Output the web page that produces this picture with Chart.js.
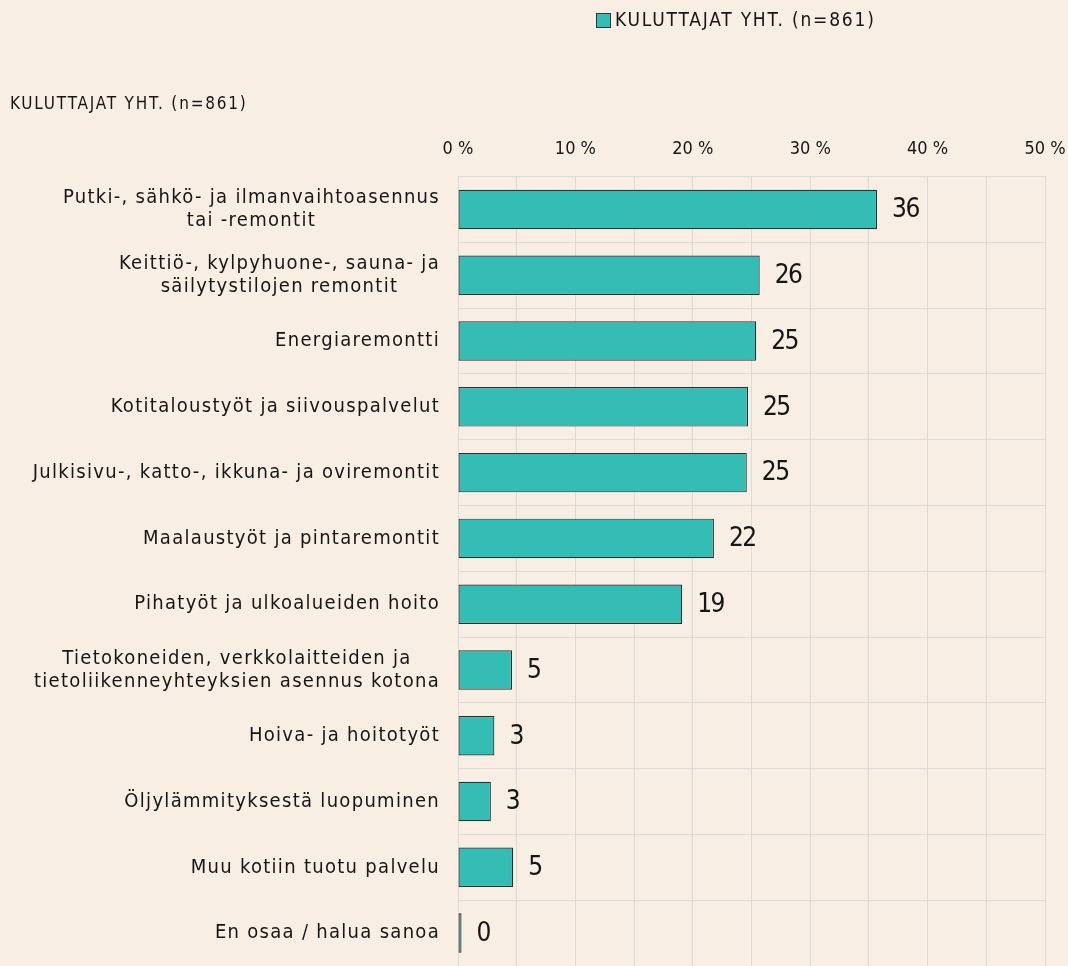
<!DOCTYPE html>
<html>
<head>
<meta charset="utf-8">
<script src="https://cdn.jsdelivr.net/npm/chart.js@4"></script>
<style>
  html, body { margin: 0; padding: 0; background: #f8eee4; }
  #wrap { width: 1068px; height: 966px; position: relative; }
</style>
</head>
<body>
<div id="wrap"><canvas id="chart"></canvas></div>
<script>
// categories (multi-line labels as arrays)
const categories = [
    ['Putki-, sähkö- ja ilmanvaihtoasennus', 'tai -remontit'],
    ['Keittiö-, kylpyhuone-, sauna- ja', 'säilytystilojen remontit'],
    'Energiaremontti',
    'Kotitaloustyöt ja siivouspalvelut',
    'Julkisivu-, katto-, ikkuna- ja oviremontit',
    'Maalaustyöt ja pintaremontit',
    'Pihatyöt ja ulkoalueiden hoito',
    ['Tietokoneiden, verkkolaitteiden ja', 'tietoliikenneyhteyksien asennus kotona'],
    'Hoiva- ja hoitotyöt',
    'Öljylämmityksestä luopuminen',
    'Muu kotiin tuotu palvelu',
    'En osaa / halua sanoa'
];
const values = [35.7, 25.7, 25.4, 24.7, 24.6, 21.8, 19.1, 4.6, 3.1, 2.8, 4.7, 0.3];
const seriesName = 'KULUTTAJAT YHT. (n=861)';
const titleText = 'KULUTTAJAT YHT. (n=861)';
const tickValues = [0, 10, 20, 30, 40, 50];

const FONT = '"DejaVu Sans Condensed", sans-serif';
const BAR = '#33bdb5';
const TEXT = '#161616';

// y-akselin nimikkeet: monirivit keskitetään keskenään, lohko oikealle
const yLabels = {
    id: 'yLabels',
    afterDraw(chart) {
        const ctx = chart.ctx;
        const y = chart.scales.y;
        ctx.save();
        ctx.font = '20px ' + FONT;
        ctx.letterSpacing = '1.3px';
        ctx.fillStyle = TEXT;
        ctx.textBaseline = 'middle';
        ctx.textAlign = 'center';
        const right = y.right - 18;
        const lh = 23;
        categories.forEach((lab, i) => {
            const lines = Array.isArray(lab) ? lab : [lab];
            const w = Math.max(...lines.map(l => ctx.measureText(l).width));
            const cx = right - w / 2;
            const cy = y.getPixelForValue(i);
            lines.forEach((l, j) => {
                ctx.fillText(l, cx, cy + (j - (lines.length - 1) / 2) * lh);
            });
        });
        ctx.restore();
    }
};

// arvot palkkien perään
const valueLabels = {
    id: 'valueLabels',
    afterDatasetsDraw(chart) {
        const ctx = chart.ctx;
        const meta = chart.getDatasetMeta(0);
        ctx.save();
        ctx.font = '26px ' + FONT;
        ctx.letterSpacing = '-1.5px';
        ctx.fillStyle = TEXT;
        ctx.textBaseline = 'middle';
        ctx.textAlign = 'left';
        meta.data.forEach((bar, i) => {
            ctx.fillText(String(Math.round(values[i])), bar.x + 15, bar.y + 1);
        });
        ctx.restore();
    }
};

// selite ja otsikko
const header = {
    id: 'header',
    afterDraw(chart) {
        const ctx = chart.ctx;
        ctx.save();
        ctx.fillStyle = BAR;
        ctx.strokeStyle = '#333';
        ctx.lineWidth = 1;
        ctx.fillRect(596.5, 13.5, 14, 14);
        ctx.strokeRect(596.5, 13.5, 14, 14);
        ctx.fillStyle = TEXT;
        ctx.font = '19px ' + FONT;
        ctx.letterSpacing = '1.8px';
        ctx.textBaseline = 'middle';
        ctx.fillText(seriesName, 615, 21);
        ctx.font = '17px ' + FONT;
        ctx.letterSpacing = '1.8px';
        ctx.fillText(titleText, 10, 105);
        ctx.restore();
    }
};

new Chart(document.getElementById('chart'), {
    type: 'bar',
    data: {
        labels: categories,
        datasets: [{
            label: seriesName,
            data: values,
            backgroundColor: BAR,
            borderColor: '#2e2e2e',
            borderWidth: 1.2,
            borderSkipped: false,
            categoryPercentage: 1,
            barPercentage: 0.6
        }]
    },
    options: {
        indexAxis: 'y',
        responsive: true,
        maintainAspectRatio: false,
        animation: false,
        layout: { padding: { top: 123, right: 23, bottom: 0, left: 0 } },
        plugins: {
            legend: { display: false },
            tooltip: { enabled: false }
        },
        scales: {
            x: {
                position: 'top',
                min: 0,
                max: 50,
                afterFit: s => { s.paddingRight = 0; s.paddingLeft = 0; },
                ticks: {
                    stepSize: 5,
                    autoSkip: false,
                    maxRotation: 0,
                    padding: 16,
                    color: TEXT,
                    font: { family: FONT, size: 18 },
                    callback: v => tickValues.includes(v) ? v + ' %' : ''
                },
                grid: { color: '#dcdad6', drawTicks: false },
                border: { color: '#dcdad6' }
            },
            y: {
                ticks: { display: false },
                afterFit: s => { s.width = 458; },
                grid: { color: '#dcdad6', drawTicks: false },
                border: { color: '#dcdad6' }
            }
        }
    },
    plugins: [yLabels, valueLabels, header]
});
</script>
</body>
</html>
